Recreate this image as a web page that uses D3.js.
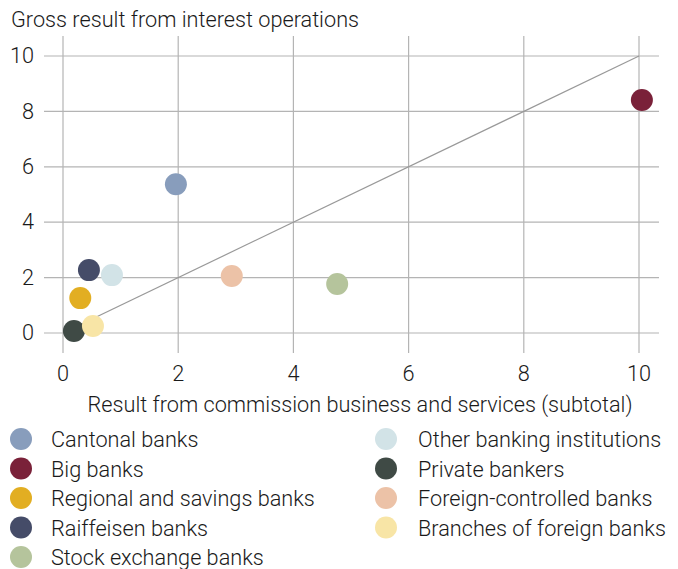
<!DOCTYPE html>
<html>
<head>
<meta charset="utf-8">
<script src="https://cdn.jsdelivr.net/npm/d3@7"></script>
<style>
  body { margin: 0; background: #fff; }
  svg { font-family: Roboto, "Liberation Sans", sans-serif; font-weight: 300; }
</style>
</head>
<body>
<svg id="chart" width="678" height="569"></svg>
<script>
// Data
const groups = [
  "Cantonal banks", "Big banks", "Regional and savings banks", "Raiffeisen banks",
  "Stock exchange banks", "Other banking institutions", "Private bankers",
  "Foreign-controlled banks", "Branches of foreign banks"
];
const commission = [1.96, 10.05, 0.30, 0.45, 4.76, 0.85, 0.19, 2.93, 0.52];
const interest = [5.37, 8.41, 1.26, 2.27, 1.77, 2.09, 0.07, 2.06, 0.25];
const colours = [
  "#889dbc", "#7a2139", "#e2ae22", "#454c68",
  "#b5c49c", "#d2e3e7", "#3f4a45", "#ecc2a7", "#f8e5a6"
];
const ticks = [0, 2, 4, 6, 8, 10];

const svg = d3.select("#chart");
const margin = { left: 63, right: 39, top: 56, bottom: 236 };
const width = 678, height = 569;
const textColour = "#1a1a1a";
const fontSize = "21.7px";

const x = d3.scaleLinear().domain([0, 10]).range([margin.left, width - margin.right]);
const y = d3.scaleLinear().domain([0, 10]).range([height - margin.bottom, margin.top]);

// Gridlines
svg.selectAll(".vgrid")
  .data(ticks)
  .enter()
  .append("line")
  .attr("class", "vgrid")
  .attr("x1", d => x(d)).attr("x2", d => x(d))
  .attr("y1", 36).attr("y2", 353)
  .attr("stroke", "#b4b4b4")
  .attr("stroke-width", 1.2);

svg.selectAll(".hgrid")
  .data(ticks)
  .enter()
  .append("line")
  .attr("class", "hgrid")
  .attr("x1", 44).attr("x2", 659)
  .attr("y1", d => y(d)).attr("y2", d => y(d))
  .attr("stroke", "#b4b4b4")
  .attr("stroke-width", 1.2);

// Diagonal reference line
svg.append("line")
  .attr("x1", x(0)).attr("y1", y(0))
  .attr("x2", x(10)).attr("y2", y(10))
  .attr("stroke", "#999")
  .attr("stroke-width", 1.2);

// Tick labels
svg.selectAll(".ylab")
  .data(ticks)
  .enter()
  .append("text")
  .attr("class", "ylab")
  .attr("x", 34)
  .attr("y", d => y(d))
  .attr("dy", "0.33em")
  .attr("text-anchor", "end")
  .attr("fill", textColour)
  .style("font-size", fontSize)
  .text(d => d);

svg.selectAll(".xlab")
  .data(ticks)
  .enter()
  .append("text")
  .attr("class", "xlab")
  .attr("x", d => x(d))
  .attr("y", 381)
  .attr("text-anchor", "middle")
  .attr("fill", textColour)
  .style("font-size", fontSize)
  .text(d => d);

// Axis titles
svg.append("text")
  .attr("x", 11).attr("y", 27)
  .attr("fill", textColour)
  .style("font-size", fontSize)
  .text("Gross result from interest operations");

svg.append("text")
  .attr("x", 360).attr("y", 412)
  .attr("text-anchor", "middle")
  .attr("fill", textColour)
  .style("font-size", fontSize)
  .text("Result from commission business and services (subtotal)");

// Points
const data = groups.map((g, i) => ({ name: g, cx: commission[i], cy: interest[i], colour: colours[i] }));

svg.selectAll(".dot")
  .data(data)
  .enter()
  .append("circle")
  .attr("class", "dot")
  .attr("cx", d => x(d.cx))
  .attr("cy", d => y(d.cy))
  .attr("r", 11)
  .attr("fill", d => d.colour);

// Legend
const legendRows = 5;
const legend = svg.selectAll(".legend")
  .data(data)
  .enter()
  .append("g")
  .attr("class", "legend")
  .attr("transform", (d, i) => {
    const col = Math.floor(i / legendRows);
    const row = i % legendRows;
    return `translate(${col ? 386 : 21}, ${439 + row * 29.5})`;
  });

legend.append("circle")
  .attr("r", 11)
  .attr("fill", d => d.colour);

legend.append("text")
  .attr("x", d => groups.indexOf(d.name) >= legendRows ? 32 : 30)
  .attr("dy", "0.38em")
  .attr("fill", textColour)
  .style("font-size", fontSize)
  .text(d => d.name);
</script>
</body>
</html>
